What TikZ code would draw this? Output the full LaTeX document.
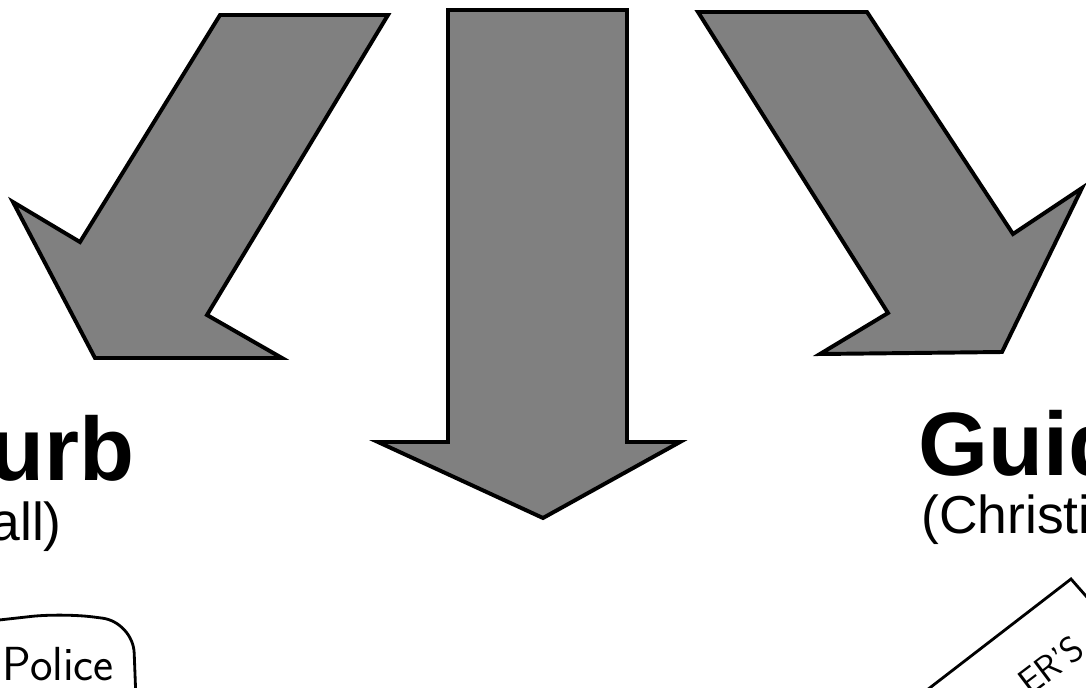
\documentclass[tikz,border=0pt]{standalone}
\usepackage{fontspec}
\newfontfamily\headfont{Liberation Sans}
\usetikzlibrary{positioning}

\begin{document}
\begin{tikzpicture}[x=0.025cm, y=-0.025cm,
    bigarrow/.style={draw=black, line width=2.8pt, line join=miter, fill=black!50},
    title/.style={inner sep=0pt, font=\headfont\bfseries\fontsize{64}{64}\selectfont},
    subtitle/.style={inner sep=0pt, font=\headfont\fontsize{38}{38}\selectfont},
    hand/.style={inner sep=0pt, font=\sffamily\fontsize{34}{34}\selectfont},
    note/.style={draw=black, line width=2pt}
]
    \useasboundingbox (0,0) rectangle (1086,687);
    \clip (0,0) rectangle (1086,687);
    \fill[white] (0,0) rectangle (1086,687);

    \draw[bigarrow] (220,15) -- (388,15) -- (207,315) -- (282,358) -- (95,358) -- (13,202) -- (80,242) -- cycle;
    \draw[bigarrow] (448,10) -- (627,10) -- (627,442) -- (680,442) -- (543,518) -- (378,442) -- (448,442) -- cycle;
    \draw[bigarrow] (698,12) -- (867,12) -- (1013,234) -- (1082,188) -- (1002,352) -- (820,354) -- (888,313) -- cycle;

    \node[title, anchor=base east] (curb) at (135,480) {urb};
    \node[subtitle, anchor=base east] (curbsub) at (62,540) {all)};
    \node[title, anchor=base west] (guide) at (918,475) {Guid};
    \node[subtitle, anchor=base west] (guidesub) at (921,533) {(Christi};

    \draw[note, rounded corners=22pt] (-10,621) -- (62,613) -- (133,622) -- (136,700);
    \node[hand, anchor=base east] (police) at (114,680) {Police};

    \draw[note] (927,690) -- (1071,579) -- (1100,612);
    \node[hand, font=\sffamily\fontsize{26}{26}\selectfont, rotate=37, anchor=base west] (owner) at (1030,697) {ER'S};
\end{tikzpicture}
\end{document}
